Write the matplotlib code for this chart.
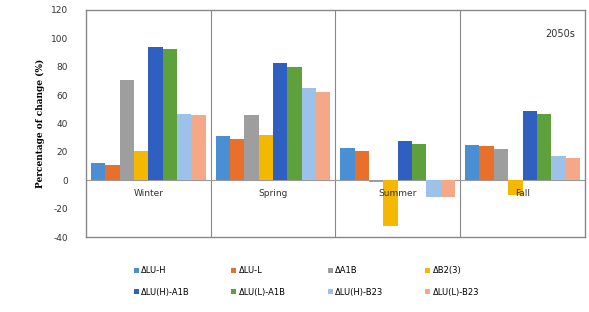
import matplotlib
matplotlib.use("Agg")
import matplotlib.pyplot as plt
import numpy as np

plt.rcParams["axes.unicode_minus"] = False

seasons = ["Winter", "Spring", "Summer", "Fall"]
series_names = ["ΔLU-H", "ΔLU-L", "ΔA1B", "ΔB2(3)",
                "ΔLU(H)-A1B", "ΔLU(L)-A1B", "ΔLU(H)-B23", "ΔLU(L)-B23"]
lu_h = [12, 31, 22.5, 25]
lu_l = [11, 29, 21, 24]
a1b = [71, 46, -1, 22]
b2 = [21, 32, -32, -10]
luh_a1b = [94, 83, 28, 49]
lul_a1b = [92.5, 80, 25.5, 47]
luh_b23 = [47, 65, -11.5, 17]
lul_b23 = [46, 62.5, -11.5, 15.5]
values = [lu_h, lu_l, a1b, b2, luh_a1b, lul_a1b, luh_b23, lul_b23]
colors = ["#4a8fd3", "#e8702a", "#9e9e9e", "#f5b800",
          "#2f5fc0", "#5ea03c", "#9cc2ea", "#f5a888"]
yticks = [-40, -20, 0, 20, 40, 60, 80, 100, 120]

fig = plt.figure(figsize=(5.89, 3.12), dpi=100)
ax = fig.add_axes([0.146, 0.240, 0.847, 0.728])

n = len(values)
bw = 0.92 / n
x = np.arange(len(seasons))
handles = []
for i, (vals, c, name) in enumerate(zip(values, colors, series_names)):
    h = ax.bar(x - 0.46 + bw * (i + 0.5), vals, width=bw, color=c, label=name,
               zorder=3, linewidth=0)
    handles.append(h)

ax.set_xlim(-0.5, len(seasons) - 0.5)
ax.set_ylim(-40, 120)
ax.set_yticks(yticks)
ax.tick_params(axis='y', labelsize=6.5, length=0, pad=13, colors="#333333")
ax.set_xticks([])
for b in np.arange(0.5, len(seasons) - 0.5, 1):
    ax.axvline(b, color="#888888", lw=0.8, zorder=1)
ax.axhline(0, color="#999999", lw=0.8, zorder=2)
for s in ax.spines.values():
    s.set_color("#888888")
    s.set_linewidth(1.0)
for xi, s in zip(x, seasons):
    ax.text(xi, -9.5, s, ha="center", va="center", fontsize=6.5, color="#333333", zorder=4)
ax.text(3.3, 103, "2050s", ha="center", va="center", fontsize=7, color="#333333")
ax.set_ylabel("Percentage of change (%)", fontsize=6.5, fontweight="bold",
              family="DejaVu Serif", labelpad=4)

order = [0, 4, 1, 5, 2, 6, 3, 7]
fig.legend([handles[i] for i in order], [series_names[i] for i in order],
           loc="lower center", bbox_to_anchor=(0.52, 0.025), ncol=4, fontsize=6,
           frameon=False, handlelength=0.6, handleheight=0.6, handletextpad=0.3,
           columnspacing=5.0, labelspacing=1.5)
fig.savefig("out.png", dpi=100)
